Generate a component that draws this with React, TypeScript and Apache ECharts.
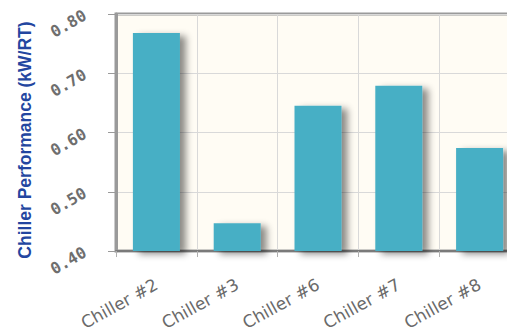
import React, { useEffect, useRef } from "react";
import * as echarts from "echarts";

const categories = ["Chiller #2", "Chiller #3", "Chiller #6", "Chiller #7", "Chiller #8"];
const performance = [0.768, 0.447, 0.645, 0.679, 0.574];
const axisTitle = "Chiller Performance (kW/RT)";
const yMin = 0.4;
const yMax = 0.8;
const yStep = 0.1;

export default function App() {
  const ref = useRef<HTMLDivElement>(null);

  useEffect(() => {
    if (!ref.current) return;
    const chart = echarts.init(ref.current, undefined, { renderer: "svg" });
    chart.setOption({
      animation: false,
      backgroundColor: "#ffffff",
      grid: {
        left: 116,
        top: 14,
        bottom: 81,
        right: 0,
        show: true,
        backgroundColor: "#fffcf4",
        borderColor: "#9a9a9a",
        borderWidth: 3,
      },
      graphic: [
        {
          type: "text",
          x: 25,
          y: 140,
          rotation: Math.PI / 2,
          style: {
            text: axisTitle,
            fill: "#2346a0",
            fontFamily: "Liberation Sans",
            fontWeight: "bold",
            fontSize: 17.5,
            align: "center",
            verticalAlign: "middle",
          },
        },
      ],
      xAxis: {
        type: "category",
        data: categories,
        boundaryGap: true,
        axisLine: { show: true, lineStyle: { color: "#7a7a7a", width: 2 } },
        axisTick: { show: true, length: 6, lineStyle: { color: "#b0b0b0" } },
        splitLine: { show: true, lineStyle: { color: "#d9d9d9", width: 1 } },
        axisLabel: {
          rotate: 29,
          margin: 32,
          color: "#6a6a6a",
          fontFamily: "DejaVu Sans",
          fontSize: 17,
        },
      },
      yAxis: {
        type: "value",
        min: yMin,
        max: yMax,
        interval: yStep,
        axisLine: { show: true, lineStyle: { color: "#9a9a9a", width: 3 } },
        axisTick: { show: true, length: 8, lineStyle: { color: "#9a9a9a" } },
        splitLine: { show: true, lineStyle: { color: "#d9d9d9", width: 1 } },
        axisLabel: {
          rotate: 30,
          margin: 31,
          padding: [18, 0, 0, 0],
          color: "#6e6e6e",
          fontFamily: "DejaVu Sans Mono",
          fontWeight: "bold",
          fontSize: 16,
          formatter: (v: number) => v.toFixed(2),
        },
      },
      series: [
        {
          type: "bar",
          data: performance,
          barWidth: 47,
          itemStyle: {
            color: "#47afc5",
            shadowColor: "rgba(0,0,0,0.45)",
            shadowBlur: 7,
            shadowOffsetX: 6,
            shadowOffsetY: 3,
          },
        },
      ],
    });
    return () => chart.dispose();
  }, []);

  return (
    <div
      style={{
        position: "fixed",
        left: 0,
        top: 0,
        width: 507,
        height: 333,
        overflow: "hidden",
      }}
    >
      <div ref={ref} style={{ width: 520, height: 333 }} />
    </div>
  );
}
